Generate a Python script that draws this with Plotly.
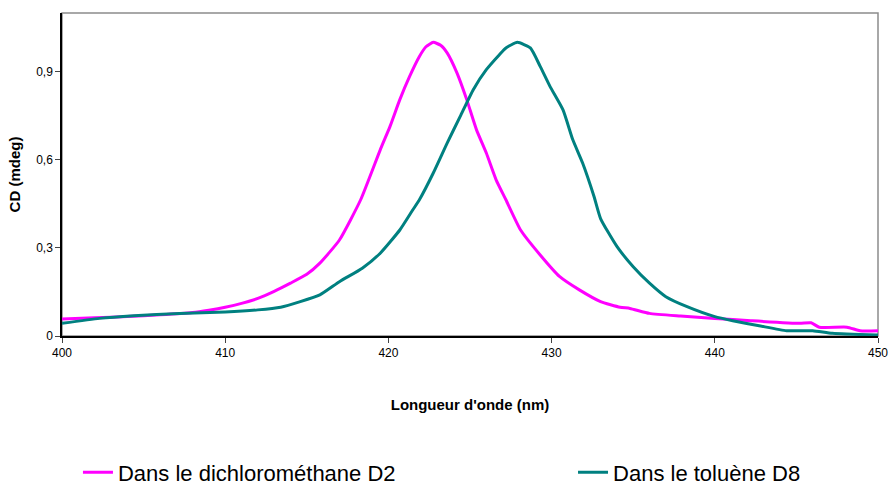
import plotly.graph_objects as go

# Valeurs
wl_dcm = [400, 402, 404, 406, 408, 409, 410, 411, 412, 413, 414, 415, 415.8, 417.0,
          418.3, 419.5, 420.1, 420.7, 421.3, 421.9, 422.3, 422.75, 423.2, 423.6, 424.2,
          424.8, 425.4, 426.0, 426.6, 427.2, 428.1, 429.3, 430.5, 431.7, 433.0, 434.2,
          434.8, 436.0, 437.9, 440.0, 442.2, 445.2, 445.9, 446.4, 448.1, 448.9, 450]
cd_dcm = [0.058, 0.062, 0.066, 0.072, 0.080, 0.088, 0.098, 0.111, 0.128, 0.152, 0.180,
          0.210, 0.248, 0.327, 0.464, 0.634, 0.714, 0.805, 0.884, 0.952, 0.985, 1.0,
          0.99, 0.964, 0.896, 0.805, 0.702, 0.623, 0.532, 0.464, 0.361, 0.276, 0.202,
          0.157, 0.117, 0.098, 0.094, 0.077, 0.068, 0.060, 0.052, 0.043, 0.045, 0.030,
          0.030, 0.018, 0.018]

wl_tol = [400, 402.3, 404.4, 407.2, 410, 412, 413.4, 414.6, 415.8, 417.0, 418.4, 419.5,
          420.7, 421.5, 421.9, 422.75, 423.6, 424.4, 425.2, 426.0, 426.8, 427.2, 427.9,
          428.7, 429.3, 429.9, 430.7, 431.3, 431.9, 432.6, 433.0, 434.0, 435.0, 436.0,
          437.0, 438.3, 440.0, 441.1, 442.8, 444.4, 446.0, 447.2, 450]
cd_tol = [0.043, 0.060, 0.069, 0.077, 0.082, 0.089, 0.098, 0.117, 0.140, 0.185, 0.231,
          0.282, 0.361, 0.430, 0.464, 0.555, 0.657, 0.748, 0.839, 0.907, 0.958, 0.981,
          1.0, 0.981, 0.918, 0.850, 0.770, 0.668, 0.589, 0.475, 0.400, 0.305, 0.236,
          0.180, 0.134, 0.100, 0.066, 0.052, 0.034, 0.018, 0.018, 0.009, 0.003]

x_ticks = [400, 410, 420, 430, 440, 450]
y_ticks = [0, 0.3, 0.6, 0.9]
y_labels = ['0', '0,3', '0,6', '0,9']

fig = go.Figure()
fig.add_trace(go.Scatter(x=wl_dcm, y=cd_dcm, mode='lines', name='Dans le dichlorométhane D2',
                         line=dict(color='#FF00FF', width=3, shape='spline', smoothing=0.5),
                         legend='legend'))
fig.add_trace(go.Scatter(x=wl_tol, y=cd_tol, mode='lines', name='Dans le toluène D8',
                         line=dict(color='#008080', width=3, shape='spline', smoothing=0.5),
                         legend='legend2'))

# deux légendes séparées pour reproduire l'écart entre les entrées
leg_common = dict(orientation='h', xref='container', yref='container', y=0.036,
                  xanchor='left', yanchor='middle', font=dict(size=22))
fig.update_layout(
    width=892, height=490,
    margin=dict(l=62, r=14, t=13, b=154),
    paper_bgcolor='white', plot_bgcolor='white',
    font=dict(family='Arial, Liberation Sans', color='black', size=11),
    showlegend=True,
    legend=dict(x=0.0874, **leg_common),
    legend2=dict(x=0.6424, **leg_common),
    shapes=[dict(type='rect', xref='paper', yref='paper', x0=0, x1=1, y0=0, y1=1,
                 line=dict(color='#8c8c8c', width=1.5), layer='below')],
)
fig.update_xaxes(range=[400, 450], tickvals=x_ticks, ticks='outside', ticklen=5,
                 showline=True, linecolor='black', linewidth=1.5, showgrid=False,
                 zeroline=False, tickfont=dict(size=12), automargin=False,
                 title=dict(text="<b>Longueur d'onde (nm)</b>", font=dict(size=15), standoff=40))
fig.update_yaxes(range=[0, 1.1], tickvals=y_ticks, ticktext=y_labels, ticks='outside',
                 ticklen=5, showline=True, linecolor='black', linewidth=1.5, showgrid=False,
                 zeroline=False, tickfont=dict(size=12), automargin=False,
                 title=dict(text='<b>CD (mdeg)</b>', font=dict(size=15), standoff=12))

# la page HTML a une marge de 8 px par défaut : on la supprime
fig.write_html("out.html", config={'displayModeBar': False},
               post_script="document.body.style.margin='0';")
